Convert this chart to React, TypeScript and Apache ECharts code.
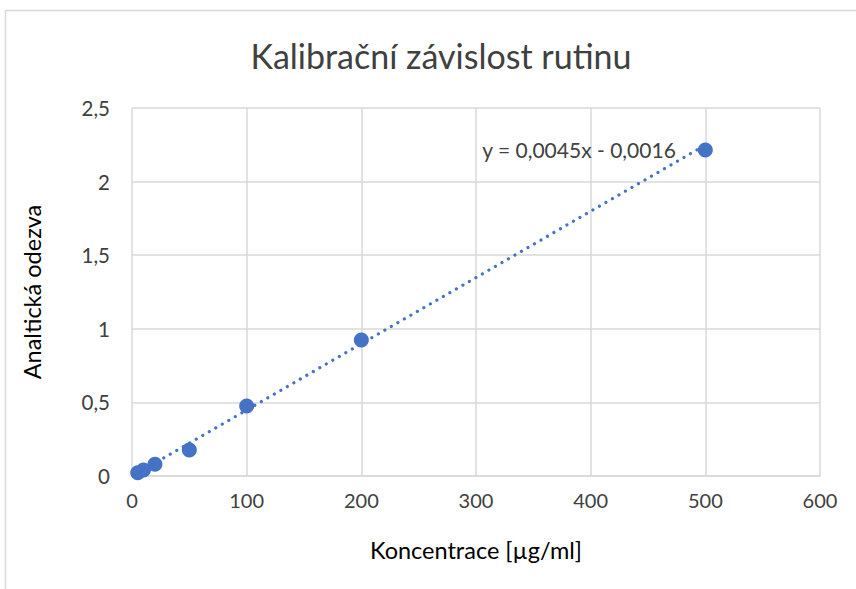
import React, { useEffect, useRef } from "react";
import * as echarts from "echarts";

const concentrations = [5, 10, 20, 50, 100, 200, 500];
const responses = [0.022, 0.04, 0.08, 0.177, 0.476, 0.924, 2.215];
const trendSlope = 0.0045;
const trendIntercept = -0.0016;
const equationText = "y = 0,0045x - 0,0016";
const titleText = "Kalibrační závislost rutinu";
const xName = "Koncentrace [µg/ml]";
const yName = "Analtická odezva";

const FONT = "Lato, 'Noto Sans', sans-serif";
const fmt = (v: number) => String(v).replace(".", ",");

export default function App() {
  const ref = useRef<HTMLDivElement>(null);
  useEffect(() => {
    document.body.style.margin = "0";
    if (!ref.current) return;
    const chart = echarts.init(ref.current, undefined, { renderer: "svg" });
    const xStart = concentrations[0];
    const xEnd = concentrations[concentrations.length - 1];
    const lastIdx = concentrations.length - 1;
    chart.setOption({
      animation: false,
      backgroundColor: "#fff",
      textStyle: { fontFamily: FONT },
      title: {
        text: titleText,
        left: 436,
        top: 33,
        textAlign: "center",
        textStyle: { fontFamily: FONT, fontSize: 34, fontWeight: "normal", color: "#404040" },
      },
      graphic: [
        {
          type: "rect",
          shape: { x: 5.5, y: 10.5, width: 900, height: 700 },
          style: { fill: "none", stroke: "#d9d9d9", lineWidth: 1.5 },
          silent: true,
        },
      ],
      grid: { left: 132, right: 36, top: 108, bottom: 113, containLabel: false },
      xAxis: {
        type: "value",
        min: 0,
        max: 600,
        interval: 100,
        name: xName,
        nameLocation: "middle",
        nameGap: 62,
        nameTextStyle: { fontFamily: FONT, fontSize: 23.5, color: "#000" },
        axisLine: { show: true, lineStyle: { color: "#d9d9d9", width: 1.5 } },
        axisTick: { show: false },
        axisLabel: { fontFamily: FONT, fontSize: 20, color: "#404040", margin: 14, formatter: fmt },
        splitLine: { show: true, lineStyle: { color: "#d9d9d9", width: 1.5 } },
      },
      yAxis: {
        type: "value",
        min: 0,
        max: 2.5,
        interval: 0.5,
        name: yName,
        nameLocation: "middle",
        nameGap: 88,
        nameTextStyle: { fontFamily: FONT, fontSize: 23.5, color: "#000" },
        axisLine: { show: false },
        axisTick: { show: false },
        axisLabel: { fontFamily: FONT, fontSize: 20.5, color: "#404040", margin: 22, formatter: fmt },
        splitLine: { show: true, lineStyle: { color: "#d9d9d9", width: 1.5 } },
      },
      series: [
        {
          type: "line",
          data: [
            [xStart, trendSlope * xStart + trendIntercept],
            [xEnd, trendSlope * xEnd + trendIntercept],
          ],
          showSymbol: false,
          symbol: "none",
          lineStyle: { color: "#4472c4", width: 3.2, type: [0.01, 7.5], cap: "round" },
          z: 2,
          silent: true,
        },
        {
          type: "scatter",
          data: concentrations.map((c, i) => [c, responses[i]]),
          symbol: "circle",
          symbolSize: 15,
          itemStyle: { color: "#4472c4", opacity: 1 },
          z: 3,
          label: {
            show: true,
            position: "left",
            distance: 22,
            fontFamily: FONT,
            fontSize: 21,
            color: "#404040",
            formatter: (p: any) => (p.dataIndex === lastIdx ? equationText : ""),
          },
        },
      ],
    });
    return () => chart.dispose();
  }, []);
  return <div ref={ref} style={{ width: 856, height: 589 }} />;
}
